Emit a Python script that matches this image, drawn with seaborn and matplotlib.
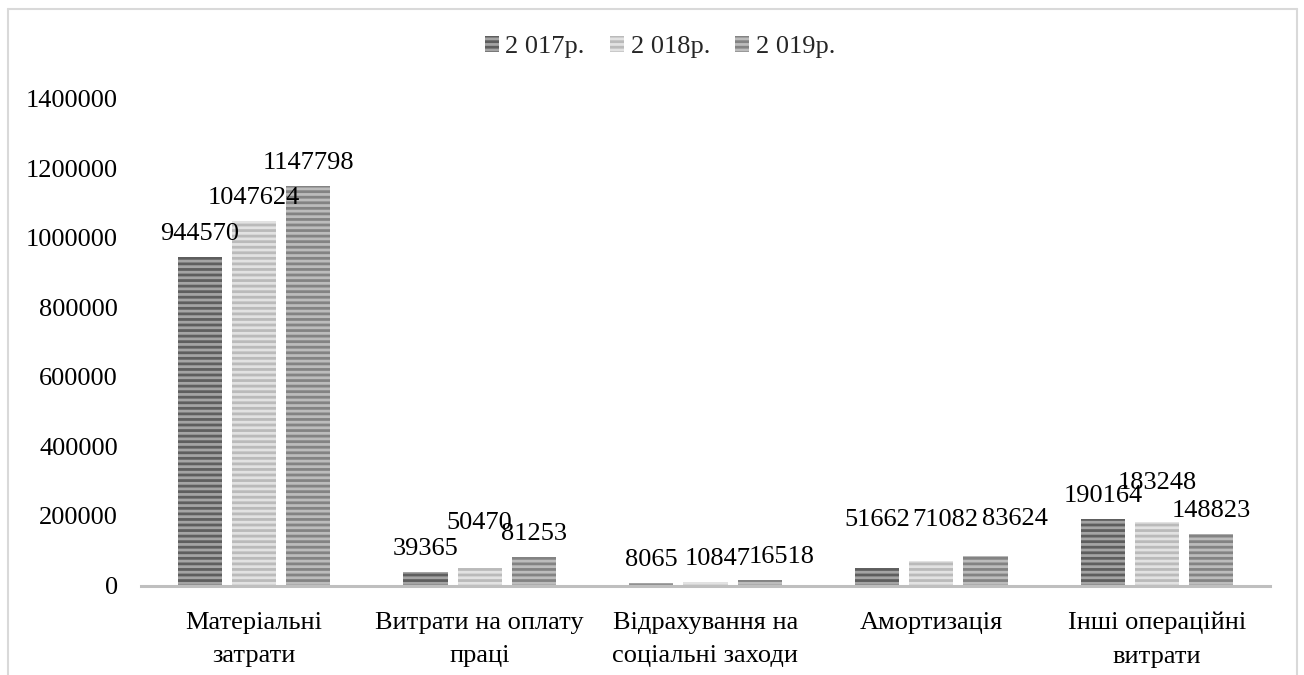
import matplotlib
matplotlib.use("Agg")
import matplotlib.pyplot as plt
from matplotlib.lines import Line2D
from matplotlib.ticker import StrMethodFormatter
import seaborn as sns
import pandas as pd

# Cost structure by element, thousand UAH
categories = [
    "Матеріальні\nзатрати",
    "Витрати на оплату\nпраці",
    "Відрахування на\nсоціальні заходи",
    "Амортизація",
    "Інші операційні\nвитрати",
]
years = ["2 017р.", "2 018р.", "2 019р."]
values_2017 = [944570, 39365, 8065, 51662, 190164]
values_2018 = [1047624, 50470, 10847, 71082, 183248]
values_2019 = [1147798, 81253, 16518, 83624, 148823]
y_ticks = [0, 200000, 400000, 600000, 800000, 1000000, 1200000, 1400000]

series = [values_2017, values_2018, values_2019]
df = pd.DataFrame(
    [(c, y, v) for y, vals in zip(years, series) for c, v in zip(categories, vals)],
    columns=["category", "year", "value"],
)

sns.set_theme(style="white")
plt.rcParams["font.family"] = ["Liberation Serif", "DejaVu Serif"]
plt.rcParams["hatch.linewidth"] = 2.0

FS = 19
face_colors = ["#a4a4a4", "#e2e2e2", "#bcbcbc"]
stripe_colors = ["#5e5e5e", "#bababa", "#838383"]

fig = plt.figure(figsize=(13.04, 6.75), dpi=100)
ax = fig.add_axes([141 / 1304, 89.5 / 675, (1270 - 141) / 1304, 487 / 675])

sns.barplot(
    data=df, x="category", y="value", hue="year", order=categories,
    hue_order=years, palette=face_colors, width=0.72, gap=0.185,
    errorbar=None, ax=ax, legend=False,
)

for cont, fc, hc in zip(ax.containers, face_colors, stripe_colors):
    for bar in cont:
        bar.set_facecolor(fc)
        bar.set_edgecolor(hc)
        bar.set_linewidth(0)
        bar.set_hatch("---")

# label nudges (px) that keep neighbouring value labels apart
lift = {(1, 1): 22, (1, 4): 16, (0, 3): 25, (1, 3): 18, (2, 3): 14}
slide = {(1, 2): 12, (2, 2): 22, (1, 3): 14, (2, 3): 29}
px = 72 / 100
for si, (cont, vals) in enumerate(zip(ax.containers, series)):
    for ci, (bar, v) in enumerate(zip(cont, vals)):
        x = bar.get_x() + bar.get_width() / 2
        ax.annotate(
            f"{v}", xy=(x, v),
            xytext=(slide.get((si, ci), 0) * px, (17 + lift.get((si, ci), 0)) * px),
            textcoords="offset points", ha="center", va="baseline",
            fontsize=FS, color="black",
        )

ax.set_ylim(0, 1400000)
ax.set_yticks(y_ticks)
ax.yaxis.set_major_formatter(StrMethodFormatter("{x:.0f}"))
ax.set_xlabel("")
ax.set_ylabel("")
ax.grid(False)
for side in ["left", "right", "top"]:
    ax.spines[side].set_visible(False)
ax.spines["bottom"].set_color("#bfbfbf")
ax.spines["bottom"].set_linewidth(2.2)
ax.tick_params(axis="y", length=0, pad=16.5, labelsize=FS, labelcolor="black")
ax.tick_params(axis="x", length=0, pad=19, labelsize=FS, labelcolor="black")
for lbl in ax.get_xticklabels():
    lbl.set_linespacing(1.68)

handles = [cont[0] for cont in ax.containers]
fig.legend(
    handles, years, loc="center", bbox_to_anchor=(660 / 1304, 1 - 47 / 675),
    ncol=3, frameon=False, fontsize=FS, handlelength=0.54, handleheight=0.54,
    handletextpad=0.25, columnspacing=0.95,
)

# light outer frame
frame_kw = dict(color="#d9d9d9", linewidth=1.5, transform=fig.transFigure)
fig.add_artist(Line2D([7.5 / 1304, 7.5 / 1304], [0, 1 - 8.5 / 675], **frame_kw))
fig.add_artist(Line2D([7.5 / 1304, 1297 / 1304], [1 - 8.5 / 675, 1 - 8.5 / 675], **frame_kw))
fig.add_artist(Line2D([1297 / 1304, 1297 / 1304], [0, 1 - 8.5 / 675], **frame_kw))

fig.savefig("out.png", dpi=100, facecolor="white")
